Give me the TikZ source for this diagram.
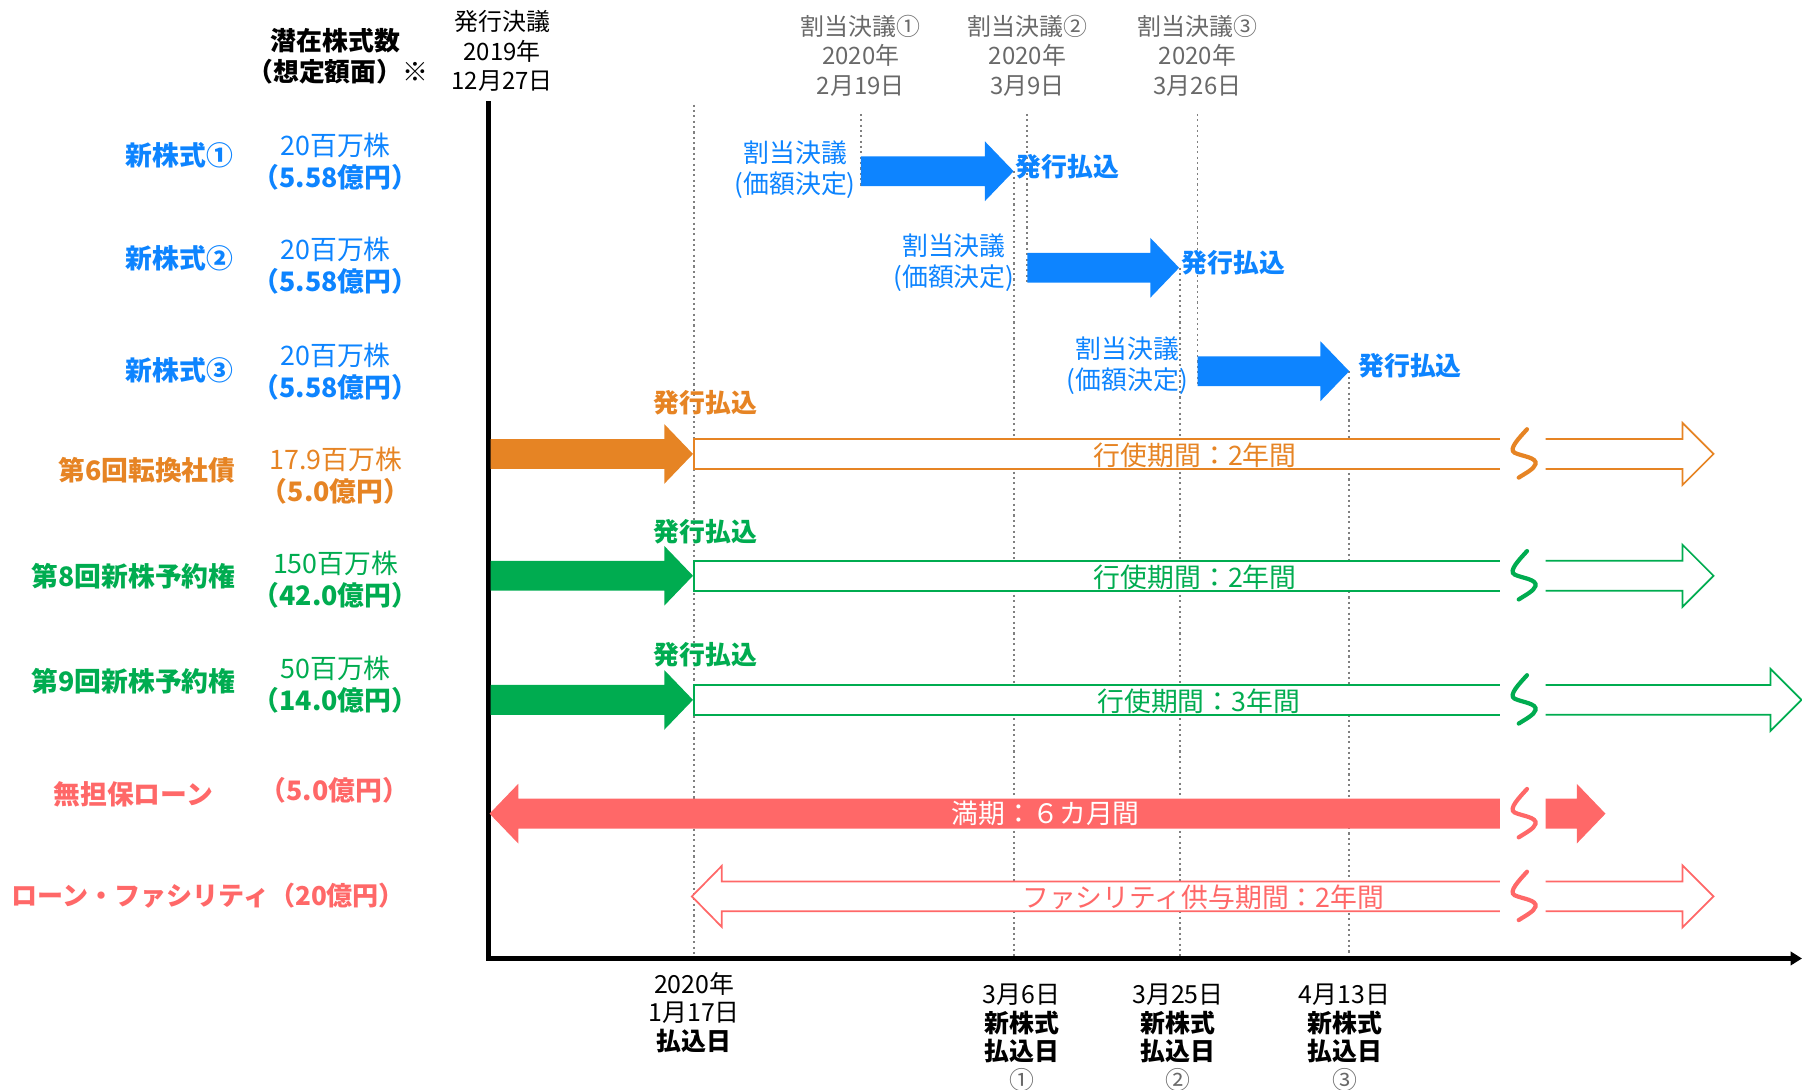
\documentclass[tikz,border=0pt]{standalone}
\usepackage{fontspec}
\setmainfont{Noto Sans CJK JP}
\usetikzlibrary{arrows.meta}
\definecolor{cblue}{RGB}{13,132,255}
\definecolor{corange}{RGB}{230,132,36}
\definecolor{cgreen}{RGB}{0,172,80}
\definecolor{cred}{RGB}{255,104,104}
\definecolor{cgray}{RGB}{105,105,105}
\definecolor{cdot}{RGB}{128,128,128}
% solid right arrow: #1 colour, #2 start x, #3 tip x, #4 centre y, #5 head length
\newcommand\myRarrow[5]{\fill[#1] (#2,#4-13) -- (#3-#5,#4-13) -- (#3-#5,#4-26) -- (#3,#4) -- (#3-#5,#4+26) -- (#3-#5,#4+13) -- (#2,#4+13) -- cycle;}
% solid left arrow: #1 colour, #2 tip x, #3 end x, #4 centre y, #5 head length
\newcommand\myLarrow[5]{\fill[#1] (#3,#4-13) -- (#2+#5,#4-13) -- (#2+#5,#4-26) -- (#2,#4) -- (#2+#5,#4+26) -- (#2+#5,#4+13) -- (#3,#4+13) -- cycle;}
% open bar, closed at left: #1 colour, #2 left x, #3 right x, #4 centre y
\newcommand\myBar[4]{\fill[white] (#2,#4-13) rectangle (#3,#4+13);
  \draw[outl,#1] (#3,#4-13) -- (#2,#4-13) -- (#2,#4+13) -- (#3,#4+13);}
% outline right arrow open at left: #1 colour, #2 start, #3 tip, #4 centre y
\newcommand\myOpenR[4]{\fill[white] (#2,#4-13) -- (#3-27,#4-13) -- (#3-27,#4-27) -- (#3,#4) -- (#3-27,#4+27) -- (#3-27,#4+13) -- (#2,#4+13) -- cycle;
  \draw[outl,#1] (#2,#4-13) -- (#3-27,#4-13) -- (#3-27,#4-27) -- (#3,#4) -- (#3-27,#4+27) -- (#3-27,#4+13) -- (#2,#4+13);}
% outline left arrow open at right: #1 colour, #2 tip, #3 end, #4 centre y
\newcommand\myOpenL[4]{\fill[white] (#3,#4-13) -- (#2+26,#4-13) -- (#2+26,#4-26.5) -- (#2,#4) -- (#2+26,#4+26.5) -- (#2+26,#4+13) -- (#3,#4+13) -- cycle;
  \draw[outl,#1] (#3,#4-13) -- (#2+26,#4-13) -- (#2+26,#4-26.5) -- (#2,#4) -- (#2+26,#4+26.5) -- (#2+26,#4+13) -- (#3,#4+13);}
% break mark: #1 colour, #2 centre y
\newcommand\myBreak[2]{\draw[brk,#1] (1328.7,#2-21.5) .. controls (1322,#2-14) and (1312,#2-4) .. (1318,#2-1) .. controls (1324,#2+2) and (1338,#2+3) .. (1336,#2+9) .. controls (1335,#2+13) and (1327,#2+17) .. (1321.5,#2+20.6);}
\begin{document}
\begin{tikzpicture}[x=0.6pt,y=-0.6pt,
  every node/.style={inner sep=0pt, outer sep=0pt},
  hdr/.style={font=\fontsize{13.5}{16}\selectfont\bfseries},
  lbl/.style={font=\fontsize{14}{16}\selectfont\bfseries},
  amt/.style={font=\fontsize{14}{16.8}\selectfont, align=center},
  topd/.style={font=\fontsize{12.5}{15.3}\selectfont, align=center},
  wari/.style={font=\fontsize{13.5}{16.2}\selectfont, align=center, text=cblue},
  pay/.style={font=\fontsize{13.5}{16}\selectfont\bfseries},
  bartxt/.style={font=\fontsize{14}{16}\selectfont},
  bot/.style={font=\fontsize{13}{14.9}\selectfont, align=center},
  dotl/.style={cdot, line width=1pt, dash pattern=on 1.1pt off 1.7pt},
  outl/.style={line width=0.9pt, line join=miter},
  brk/.style={line width=2.2pt, line cap=round},
  axisl/.style={line width=2.2pt, line join=miter}]
\useasboundingbox (0,0) rectangle (1568,948);

% ---------- dotted guide lines ----------
\coordinate (d0t) at (604,91);   \coordinate (d0b) at (604,834);
\coordinate (d1t) at (749,99);   \coordinate (d1b) at (749,162);
\coordinate (d2t) at (882,149);  \coordinate (d2b) at (882,834);
\coordinate (d3t) at (894,99);   \coordinate (d3b) at (894,246);
\coordinate (d4t) at (1027,233); \coordinate (d4b) at (1027,834);
\coordinate (d5t) at (1042,99);  \coordinate (d5b) at (1042,336);
\coordinate (d6t) at (1174,323); \coordinate (d6b) at (1174,834);
\foreach \i in {0,...,6} {\draw[dotl] (d\i t) -- (d\i b);}

% ---------- axes ----------
\coordinate (axtop) at (425,88);
\coordinate (axo) at (425,834);
\coordinate (axend) at (1568,834);
\draw[axisl, -{Triangle[length=6pt,width=7pt]}] (axtop) -- (axo) -- (axend);

% ---------- header ----------
\node[hdr] (h1) at (292,35) {潜在株式数};
\node[hdr] (h2) at (294,62) {（想定額面）{\mdseries ※}};
\node[topd] (t0) at (437,44.5) {発行決議\\2019年\\12月27日};
\node[topd, text=cgray] (t1) at (749,48.5) {割当決議①\\2020年\\2月19日};
\node[topd, text=cgray] (t2) at (894,48.5) {割当決議②\\2020年\\3月9日};
\node[topd, text=cgray] (t3) at (1042,48.5) {割当決議③\\2020年\\3月26日};

% ---------- row labels ----------
\node[lbl, text=cblue] (l1) at (156,135) {新株式①};
\node[lbl, text=cblue] (l2) at (156,225) {新株式②};
\node[lbl, text=cblue] (l3) at (156,322) {新株式③};
\node[lbl, text=corange, anchor=east] (l4) at (205,409) {第6回転換社債};
\node[lbl, text=cgreen, anchor=east] (l5) at (205,501.5) {第8回新株予約権};
\node[lbl, text=cgreen, anchor=east] (l6) at (205,592.5) {第9回新株予約権};
\node[lbl, text=cred] (l7) at (116,691) {無担保ローン};
\node[lbl, text=cred, anchor=west, font=\fontsize{13.6}{16}\selectfont\bfseries] (l8) at (10,779) {ローン・ファシリティ（20億円）};

% ---------- amounts ----------
\node[amt, text=cblue] (a1) at (292,140.5) {20百万株\\{\bfseries （5.58億円）}};
\node[amt, text=cblue] (a2) at (292,231) {20百万株\\{\bfseries （5.58億円）}};
\node[amt, text=cblue] (a3) at (292,323) {20百万株\\{\bfseries （5.58億円）}};
\node[amt, text=corange] (a4) at (292,413.5) {17.9百万株\\{\bfseries （5.0億円）}};
\node[amt, text=cgreen] (a5) at (292,504.5) {150百万株\\{\bfseries （42.0億円）}};
\node[amt, text=cgreen] (a6) at (292,595.5) {50百万株\\{\bfseries （14.0億円）}};
\node[amt, text=cred, font=\fontsize{14}{16.8}\selectfont\bfseries] (a7) at (291,688) {（5.0億円）};

% ---------- new shares rows ----------
\myRarrow{cblue}{749}{882}{149}{25}
\node[wari] (w1) at (692,147.5) {割当決議\\(価額決定)};
\node[pay, text=cblue] (p1) at (929,145) {発行払込};

\myRarrow{cblue}{894}{1026}{233}{25}
\node[wari] (w2) at (830,228.5) {割当決議\\(価額決定)};
\node[pay, text=cblue] (p2) at (1073,229) {発行払込};

\myRarrow{cblue}{1042}{1174}{323}{25}
\node[wari] (w3) at (981,318) {割当決議\\(価額決定)};
\node[pay, text=cblue] (p3) at (1227,318) {発行払込};

% ---------- convertible bond ----------
\myRarrow{corange}{427}{603}{395}{25}
\node[pay, text=corange] (p4) at (614,350) {発行払込};
\myBar{corange}{604}{1305}{395}
\node[bartxt, text=corange] (b4) at (1040,396) {行使期間：2年間};
\myBreak{corange}{395}
\myOpenR{corange}{1345}{1491}{395}

% ---------- 8th warrants ----------
\myRarrow{cgreen}{427}{603}{501}{25}
\node[pay, text=cgreen] (p5) at (614,463) {発行払込};
\myBar{cgreen}{604}{1305}{501}
\node[bartxt, text=cgreen] (b5) at (1040,502) {行使期間：2年間};
\myBreak{cgreen}{501}
\myOpenR{cgreen}{1345}{1491}{501}

% ---------- 9th warrants ----------
\myRarrow{cgreen}{427}{603}{609}{25}
\node[pay, text=cgreen] (p6) at (614,570) {発行払込};
\myBar{cgreen}{604}{1305}{609}
\node[bartxt, text=cgreen] (b6) at (1043,610) {行使期間：3年間};
\myBreak{cgreen}{609}
\myOpenR{cgreen}{1345}{1567.5}{609}

% ---------- unsecured loan ----------
\myLarrow{cred}{426}{1305}{708}{25}
\node[bartxt, text=white] (b7) at (910,708) {満期：６カ月間};
\myBreak{cred}{708}
\myRarrow{cred}{1345}{1397}{708}{25}

% ---------- loan facility ----------
\myOpenL{cred}{602}{1305}{780}
\node[bartxt, text=cred] (b8) at (1047,781) {ファシリティ供与期間：2年間};
\myBreak{cred}{780}
\myOpenR{cred}{1345}{1491}{780}

% ---------- bottom labels ----------
\node[bot] (x0) at (604,881) {2020年\\1月17日\\{\bfseries 払込日}};
\node[bot] (x1) at (889,903) {3月6日\\{\bfseries 新株式}\\{\bfseries 払込日}\\{\color{cgray}①}};
\node[bot] (x2) at (1025,903) {3月25日\\{\bfseries 新株式}\\{\bfseries 払込日}\\{\color{cgray}②}};
\node[bot] (x3) at (1170,903) {4月13日\\{\bfseries 新株式}\\{\bfseries 払込日}\\{\color{cgray}③}};
\end{tikzpicture}
\end{document}
